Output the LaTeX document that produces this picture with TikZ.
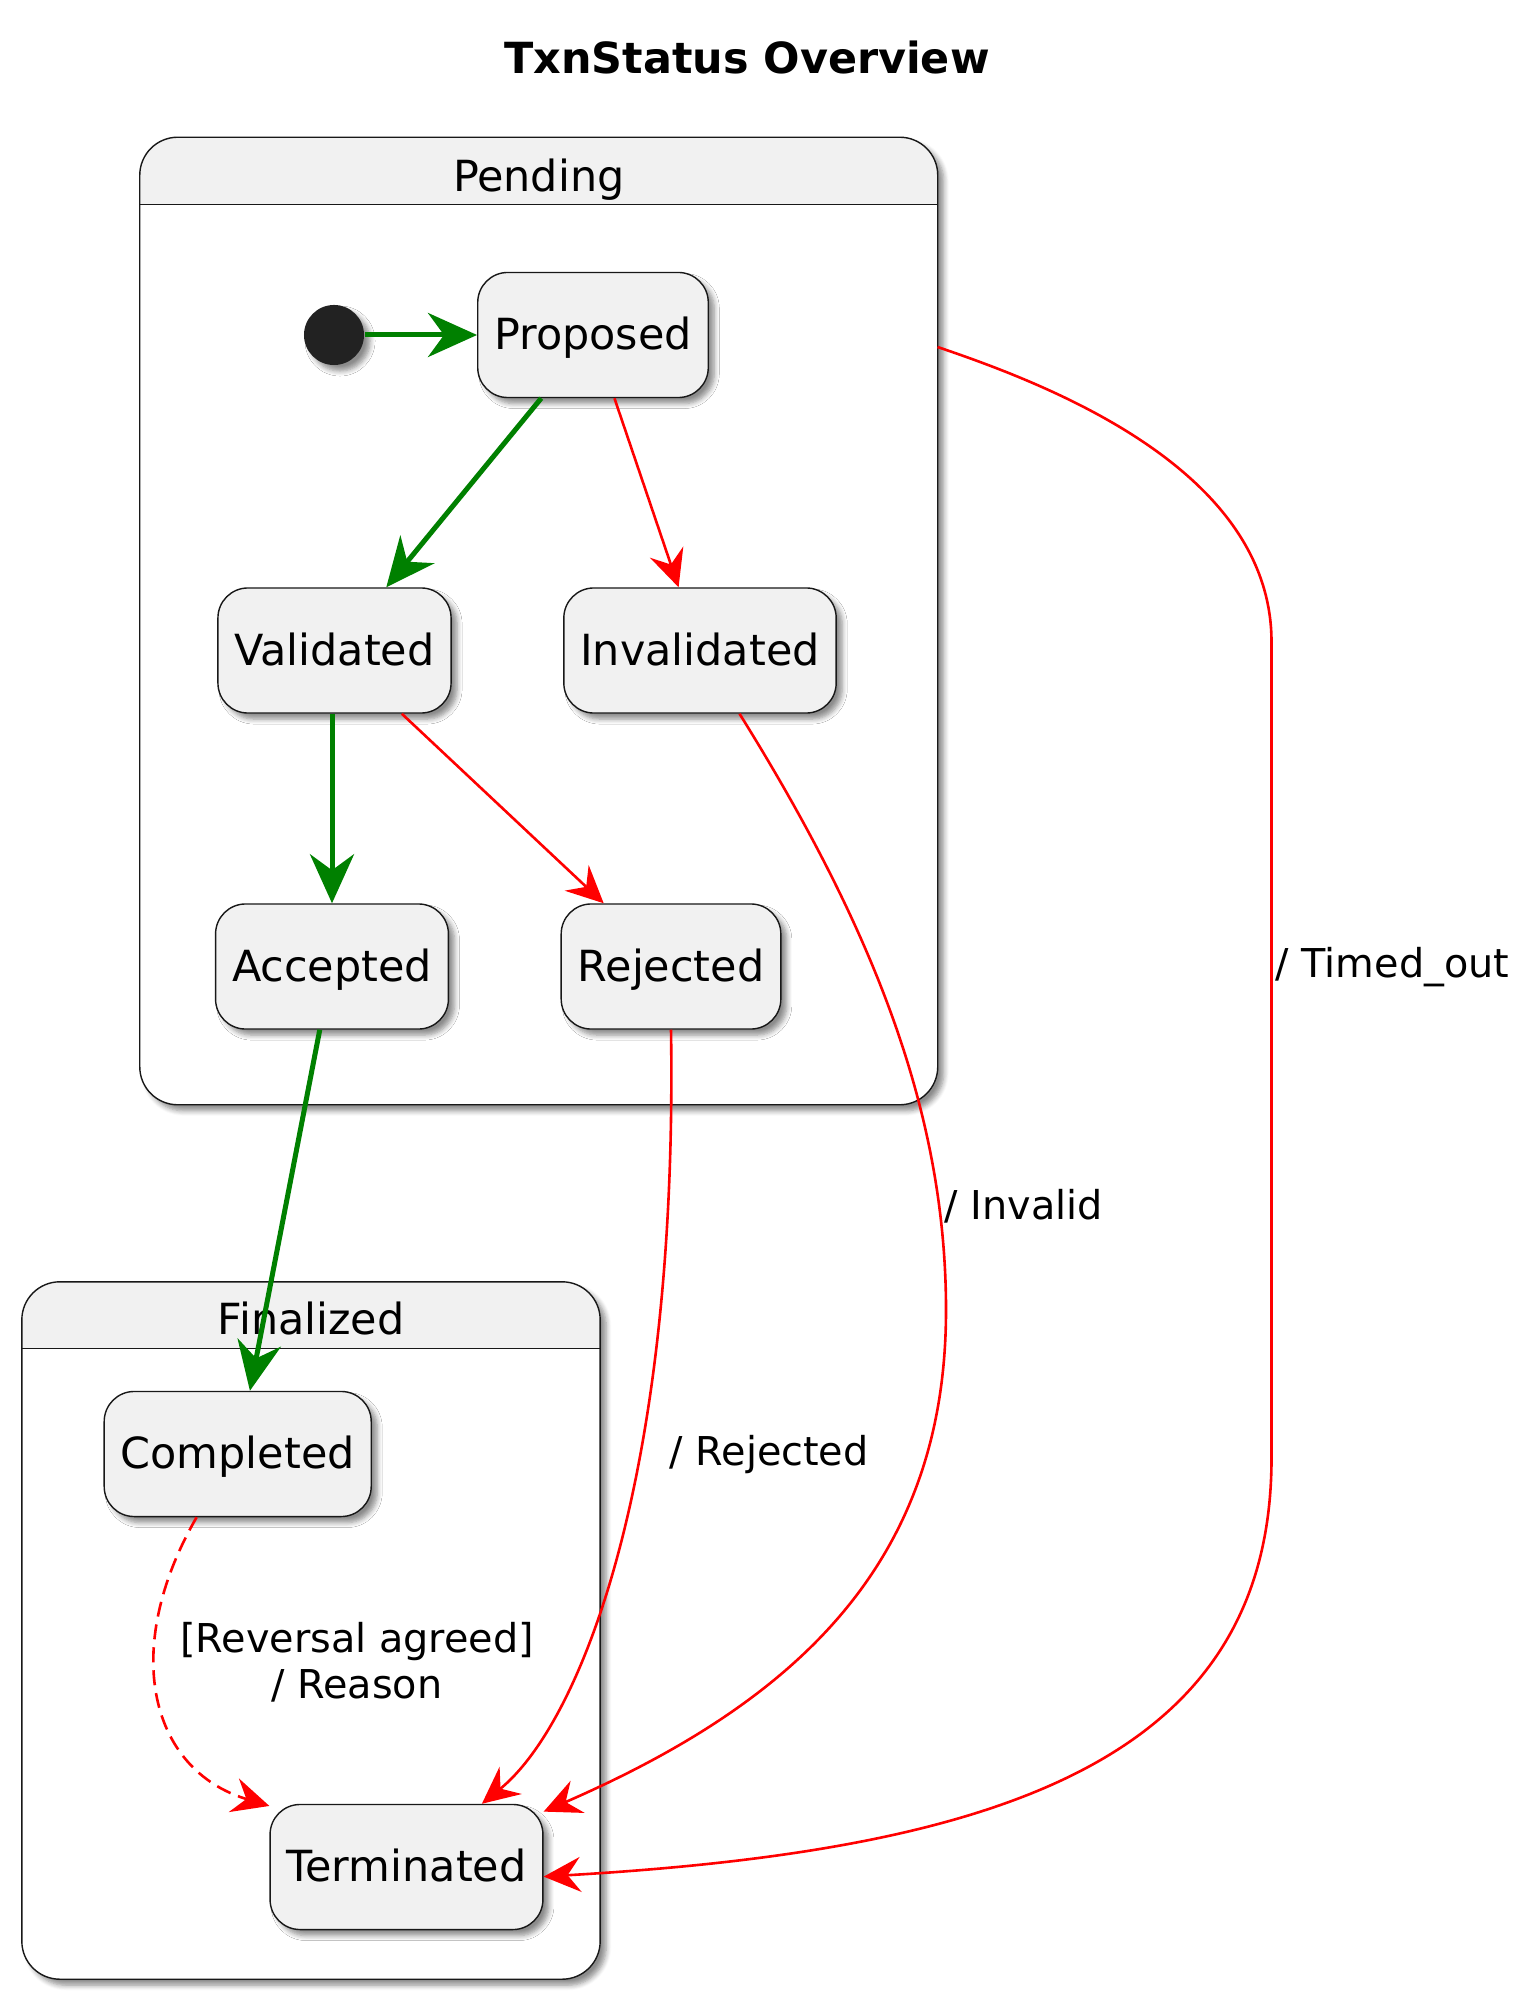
\documentclass[tikz,border=0pt]{standalone}
\usepackage{fontspec}
\setmainfont{DejaVu Sans}
\usetikzlibrary{shadows.blur}
\usetikzlibrary{arrows.meta}
\definecolor{umlgreen}{RGB}{0,128,0}
\definecolor{umlred}{RGB}{255,0,0}
\definecolor{statefill}{HTML}{F1F1F1}
\definecolor{stateline}{HTML}{181818}
\definecolor{dotfill}{HTML}{222222}
\tikzset{
    myshadow/.style = {blur shadow={shadow xshift=0.06cm, shadow yshift=-0.06cm, shadow blur radius=0.05cm, shadow blur steps=6, shadow opacity=45}},
    mystate/.style = {rectangle, rounded corners=0.3cm, draw=stateline, line width=0.4pt, fill=statefill, minimum height=1.25cm, inner xsep=0.165cm, text height=0.84em, text depth=0pt, font=\fontsize{12.2}{14}\selectfont, myshadow},
    mybox/.style = {rectangle, rounded corners=0.38cm, draw=stateline, line width=0.4pt, fill=white, inner sep=0pt, myshadow,
        path picture={
            \fill[statefill, sharp corners] (path picture bounding box.north west) rectangle ([yshift=-#1]path picture bounding box.north east);
            \draw[stateline, line width=0.4pt, sharp corners] ([yshift=-#1]path picture bounding box.north west) -- ([yshift=-#1]path picture bounding box.north east);
        }},
    myinit/.style = {circle, fill=dotfill, minimum size=0.6cm, inner sep=0pt, myshadow},
    boxtitle/.style = {font=\fontsize{12.2}{14}\selectfont},
    edgelabel/.style = {font=\fontsize{11.3}{13.2}\selectfont, align=center, inner sep=0pt},
    edgeg/.style = {-{Stealth[length=0.49cm,width=0.44cm,inset=0.16cm]}, line width=0.05cm, umlgreen}, % happy path
    edger/.style = {-{Stealth[length=0.37cm,width=0.35cm,inset=0.13cm]}, line width=0.026cm, umlred}, % failure
    edgerd/.style = {edger, dash pattern=on 0.15cm off 0.08cm}, % reversal
}

\begin{document}
\begin{tikzpicture}[x=0.01cm, y=-0.01cm]
\useasboundingbox (0,0) rectangle (1536,2013);
\node[font=\fontsize{12.2}{14}\selectfont\bfseries] at (747,58) (title) {TxnStatus Overview};
%
\node[mybox=0.67cm, minimum width=7.975cm, minimum height=9.67cm] at (538.75,621) (pending) {};
\node[boxtitle] at (538.75,180) (pendtitle) {Pending};
\node[mybox=0.665cm, minimum width=5.78cm, minimum height=6.97cm] at (311,1630.5) (finalized) {};
\node[boxtitle] at (311,1318) (fintitle) {Finalized};
%
\node[myinit] at (334,335) (init) {};
\node[mystate] at (593,335) (proposed) {Proposed};
\node[mystate] at (334.5,650.5) (validated) {Validated};
\node[mystate] at (700,650.5) (invalidated) {Invalidated};
\node[mystate] at (332,966.5) (accepted) {Accepted};
\node[mystate] at (671,966.5) (rejected) {Rejected};
\node[mystate] at (237.7,1454) (completed) {Completed};
\node[mystate] at (406.5,1867) (terminated) {Terminated};
\coordinate (tout) at (937.5,347);
%
\draw[edgeg] (init) -- (proposed);
\draw[edgeg] (proposed) -- (validated);
\draw[edger] (proposed) -- (invalidated);
\draw[edgeg] (validated.south -| accepted) -- (accepted);
\draw[edger] (validated) -- (rejected);
\draw[edgeg] (accepted) -- (completed);
\draw[edgerd] (completed.-123) .. controls (120,1650) and (150,1770) .. (terminated.156);
\draw[edger] (rejected.south) .. controls (678,1480) and (580,1724) .. (terminated.40);
\draw[edger] (invalidated.-58) .. controls (871,925) and (946,1110) .. (946,1310)
    .. controls (946,1560) and (800,1700) .. (terminated.22);
\draw[edger] (tout) .. controls (1050,385) and (1271.5,470) .. (1271.5,642) -- (1271.5,1458)
    .. controls (1271.5,1760) and (1000,1850) .. (terminated.-4);
%
\node[edgelabel, anchor=west] at (1275,967) (ltimed) {/ Timed\_out};
\node[edgelabel, anchor=west] at (944,1206) (linvalid) {/ Invalid};
\node[edgelabel, anchor=west] at (669,1455) (lrejected) {/ Rejected};
\node[edgelabel] at (357,1662) (lreversal) {[Reversal agreed]\\/ Reason};
\end{tikzpicture}
\end{document}
